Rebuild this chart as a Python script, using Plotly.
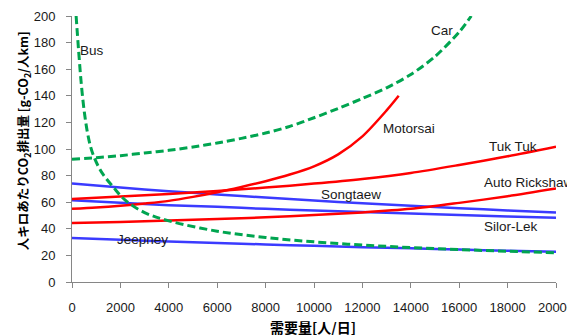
import plotly.graph_objects as go

# ---- data ----
bus_x = [170, 273, 384, 508, 632, 756, 900, 1100, 1300, 1700, 2200, 3000, 4000, 6000, 8000, 10000, 12000, 14000, 16000, 18000, 20000]
bus_y = [200, 174, 149, 128, 113, 102.5, 94.5, 86.5, 80.5, 71.5, 61.5, 52.2, 46, 38.2, 33.5, 30.2, 27.8, 25.9, 24.4, 23.1, 22]

car_x = [0, 1000, 2000, 3000, 4000, 5000, 6000, 7000, 8000, 9000, 10000, 11000, 12000, 13000, 14000, 15000, 16000, 16500]
car_y = [92.3, 93.5, 95, 97, 99, 101.5, 104.5, 108, 112, 117, 123.5, 130.5, 138, 146, 156, 169.5, 188, 200]

motorsai_x = [0, 1000, 2000, 3000, 4000, 5000, 6000, 7000, 8000, 9000, 10000, 11000, 12000, 13000, 13500]
motorsai_y = [55, 56, 57.3, 59, 61, 64, 67.5, 71.5, 75.8, 80.8, 87, 96, 109.5, 129, 140]

grid_x = [0, 2000, 4000, 6000, 8000, 10000, 12000, 14000, 16000, 18000, 20000]
tuktuk_y = [62.5, 64.3, 66.2, 68.5, 71, 74, 77.5, 82, 88, 94.5, 101.7]
auto_y = [44.3, 45.2, 46.2, 47.3, 48.6, 50.3, 52.3, 55, 59.5, 64.5, 70.3]
songtaew_y = [74, 71, 68.3, 65.8, 63.5, 61.3, 59.2, 57.3, 55.5, 53.8, 52.3]
silor_y = [61.5, 59.5, 57.8, 56.5, 55, 53.8, 52.6, 51.5, 50.3, 49.3, 48.3]
jeepney_y = [33, 31.7, 30.5, 29.4, 28.2, 27.2, 26.2, 25.3, 24.4, 23.5, 22.7]

x_ticks = [0, 2000, 4000, 6000, 8000, 10000, 12000, 14000, 16000, 18000, 20000]
y_ticks = [0, 20, 40, 60, 80, 100, 120, 140, 160, 180, 200]

labels = ["Bus", "Car", "Motorsai", "Tuk Tuk", "Auto Rickshaw", "Songtaew", "Silor-Lek", "Jeepney"]
label_x = [260, 15270, 13940, 18240, 18900, 11520, 18160, 2920]
label_y = [174, 189, 115.7, 102, 75, 65.5, 41.5, 31.7]
label_anchor = ["left", "center", "center", "center", "center", "center", "center", "center"]

RED = "#FF0000"
BLUE = "#3B3BFF"
GREEN = "#00A550"
DASH = "8px,4px"

fig = go.Figure()

def add(x, y, color, dash=None, width=2.5, smoothing=0.8):
    fig.add_trace(go.Scatter(
        x=x, y=y, mode="lines",
        line=dict(color=color, width=width, dash=dash, shape="spline", smoothing=smoothing),
        hoverinfo="skip", showlegend=False, cliponaxis=True))

add(grid_x, jeepney_y, BLUE)
add(grid_x, silor_y, BLUE)
add(grid_x, songtaew_y, BLUE)
add(grid_x, auto_y, RED)
add(grid_x, tuktuk_y, RED)
add(motorsai_x, motorsai_y, RED)
add(car_x, car_y, GREEN, DASH, 3)
add(bus_x, bus_y, GREEN, DASH, 3, 1.0)

label_font = dict(family="Liberation Sans, Arial, sans-serif", size=13.5, color="#1a1a1a")
for t, lx, ly, anc in zip(labels, label_x, label_y, label_anchor):
    fig.add_annotation(x=lx, y=ly, text=t, showarrow=False, xanchor=anc, yanchor="middle",
                       font=label_font)

fig.add_annotation(xref="paper", yref="paper", x=-0.101, y=0.53,
                   text="<b>人キロあたりCO<sub>2</sub>排出量 [g-CO<sub>2</sub>/人km]</b>",
                   textangle=-90, showarrow=False, xanchor="center", yanchor="middle",
                   font=dict(family="Noto Sans CJK JP, sans-serif", size=12.5, color="#000000"))
fig.add_annotation(xref="paper", yref="paper", x=0.498, y=-0.171,
                   text="<b>需要量[人/日]</b>", showarrow=False,
                   xanchor="center", yanchor="middle",
                   font=dict(family="Noto Sans CJK JP, sans-serif", size=14, color="#000000"))

axis_common = dict(showgrid=False, zeroline=False, showline=True, linecolor="#868686",
                   linewidth=1, ticks="outside", ticklen=5, tickcolor="#868686",
                   automargin=False)

fig.update_xaxes(range=[0, 20000], tickvals=x_ticks, ticktext=[str(v) for v in x_ticks],
                 ticklabelstandoff=8,
                 tickfont=dict(family="Liberation Sans Narrow, Arial Narrow, Liberation Sans, sans-serif",
                               size=13, color="#1a1a1a"),
                 **axis_common)
fig.update_yaxes(range=[0, 200], tickvals=y_ticks, ticktext=[str(v) for v in y_ticks],
                 ticklabelstandoff=8,
                 tickfont=dict(family="Liberation Sans, Arial, sans-serif", size=13, color="#1a1a1a"),
                 **axis_common)

# page body has an 8px default margin, so the figure is sized/offset accordingly
fig.update_layout(width=567, height=327, margin=dict(l=64, r=19, t=8, b=53),
                  plot_bgcolor="white", paper_bgcolor="white", showlegend=False)

fig.write_html("out.html")
